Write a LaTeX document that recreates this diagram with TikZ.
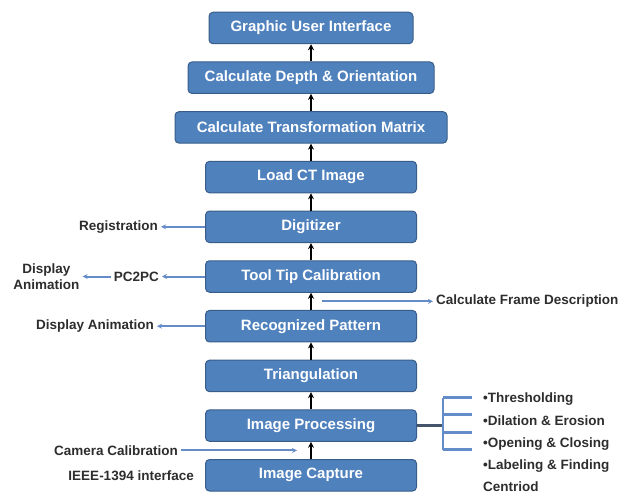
\documentclass[tikz,border=0pt]{standalone}
\usepackage{fontspec}
\setmainfont{Liberation Sans}
\usetikzlibrary{arrows.meta, positioning, calc}
\definecolor{boxfill}{RGB}{79,129,189}
\definecolor{boxline}{RGB}{56,93,138}
\definecolor{sidearr}{RGB}{100,140,200}
\definecolor{sidetxt}{RGB}{45,45,45}
\definecolor{stem}{RGB}{68,84,106}
\tikzset{
  stage/.style={rectangle, draw=boxline, fill=boxfill, line width=1pt,
                rounded corners=4pt, minimum width=211pt, minimum height=31.5pt,
                inner sep=0pt, text=white,
                font=\fontsize{15}{18}\selectfont\bfseries},
  side/.style={font=\fontsize{13.5}{16}\selectfont\bfseries, text=sidetxt,
               align=center, inner sep=3pt},
  up/.style={-{Stealth[length=6pt,width=6pt]}, line width=1.8pt, black},
  sarr/.style={-{Stealth[length=5pt,width=5pt]}, line width=2pt, sidearr},
  brk/.style={line width=2.5pt, sidearr},
}
\begin{document}
\begin{tikzpicture}[x=1pt, y=-1pt, node distance=17.2pt]
  \useasboundingbox (0,0) rectangle (621,495);

  % main chain, top to bottom
  \node[stage, minimum width=204pt] (gui) at (311,28) {Graphic User Interface};
  \node[stage, minimum width=246pt, below=of gui] (depth) {Calculate Depth \& Orientation};
  \node[stage, minimum width=272pt, below=of depth] (trans) {Calculate Transformation Matrix};
  \node[stage, below=of trans] (load) {Load CT Image};
  \node[stage, below=of load] (dig) {Digitizer};
  \node[stage, below=of dig] (tool) {Tool Tip Calibration};
  \node[stage, below=of tool] (rec) {Recognized Pattern};
  \node[stage, below=of rec] (tri) {Triangulation};
  \node[stage, below=of tri] (proc) {Image Processing};
  \node[stage, below=of proc] (cap) {Image Capture};

  \foreach \a/\b in {cap/proc, proc/tri, tri/rec, rec/tool, tool/dig,
                     dig/load, load/trans, trans/depth, depth/gui}
    \draw[up] (\a) -- (\b);

  % outputs on the left
  \node[side, left=44pt of dig] (reg) {Registration};
  \draw[sarr] (dig) -- (reg);
  \node[side, left=43pt of tool] (pc) {PC2PC};
  \draw[sarr] (tool) -- (pc);
  \node[side, left=28pt of pc] (dispb) {Display\\Animation};
  \draw[sarr] (pc) -- (dispb);
  \node[side, left=48pt of rec] (dispa) {Display Animation};
  \draw[sarr] (rec) -- (dispa);

  % frame description
  \coordinate (fs) at ($(tool.south)!0.5!(rec.north)+(11,0)$);
  \node[side, anchor=west] (frame) at ($(fs)+(111,0)$) {Calculate Frame Description};
  \draw[sarr] (fs) -- (frame);

  % inputs
  \coordinate (cc) at ($(proc.south)!0.5!(cap.north)+(-14,0)$);
  \node[side, left=116pt of cc] (cam) {Camera Calibration};
  \draw[sarr] (cam) -- (cc);
  \node[side, left=8pt of cap] (ieee) {IEEE-1394 interface};

  % processing steps
  \coordinate (bk) at ($(proc.east)+(26,0)$);
  \draw[line width=2.5pt, stem] (proc) -- (bk);
  \draw[brk] ($(bk)+(0,-28)$) -- ($(bk)+(0,24)$);
  \foreach \t in {-28,-11,7,24}
    \draw[brk] ($(bk)+(0,\t)$) -- ++(29,0);
  \node[side, anchor=north west, align=left,
        font=\fontsize{13.5}{22.2}\selectfont\bfseries] (steps) at (480,390)
    {•Thresholding\\•Dilation \& Erosion\\•Opening \& Closing\\•Labeling \& Finding\\Centriod};

\end{tikzpicture}
\end{document}
